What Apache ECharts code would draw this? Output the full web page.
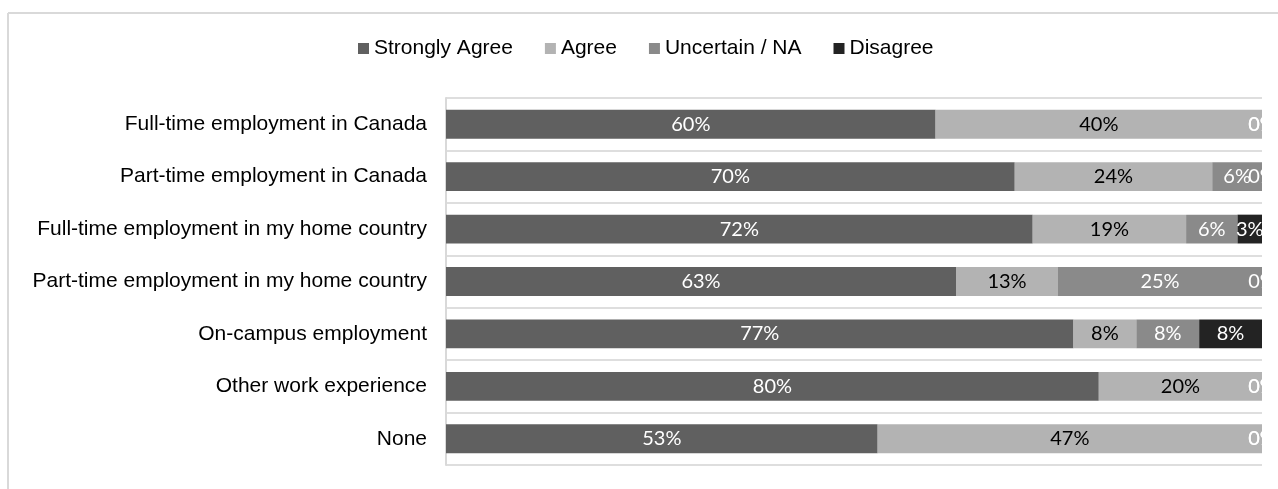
<!DOCTYPE html>
<html>
<head>
<meta charset="utf-8">
<script src="https://cdn.jsdelivr.net/npm/echarts@6/dist/echarts.min.js"></script>
<style>
  html, body { margin: 0; padding: 0; background: #fff; }
  #chart { width: 1278px; height: 489px; }
</style>
</head>
<body>
<div id="chart"></div>
<script>
// Survey categories, top to bottom
const categories = [
  'Full-time employment in Canada',
  'Part-time employment in Canada',
  'Full-time employment in my home country',
  'Part-time employment in my home country',
  'On-campus employment',
  'Other work experience',
  'None'
];

// Share of respondents (%) per answer
const stronglyAgree = [60, 69.7, 71.9, 62.5, 76.9, 80, 52.9];
const agree         = [40, 24.2, 18.8, 12.5, 7.7, 20, 47.1];
const uncertain     = [0, 6.1, 6.3, 25, 7.7, 0, 0];
const disagree      = [0, 0, 3.1, 0, 7.7, 0, 0];

const seriesNames = ['Strongly Agree', 'Agree', 'Uncertain / NA', 'Disagree'];

const chart = echarts.init(document.getElementById('chart'));

function makeSeries(name, data, color, labelColor) {
  return {
    name: name,
    type: 'bar',
    stack: 'total',
    data: data,
    barCategoryGap: '45%',
    itemStyle: { color: color },
    label: {
      show: true,
      position: 'inside',
      color: labelColor,
      fontFamily: 'Lato, "Open Sans", sans-serif',
      fontSize: 20,
      formatter: p => Math.round(p.value) + '%'
    },
    emphasis: { disabled: true }
  };
}

chart.setOption({
  animation: false,
  textStyle: { fontFamily: '"Liberation Sans", Arial, sans-serif' },
  legend: {
    data: seriesNames,
    top: 33,
    left: 353,
    itemWidth: 11,
    itemHeight: 11,
    itemGap: 32,
    icon: 'rect',
    textStyle: { fontSize: 21, color: '#000', fontFamily: '"Liberation Sans", Arial, sans-serif' }
  },
  grid: { left: 446, right: 16, top: 98, bottom: 24 },
  xAxis: {
    type: 'value',
    min: 0,
    max: 100,
    show: false
  },
  yAxis: {
    type: 'category',
    data: categories,
    inverse: true,
    axisTick: { show: false },
    axisLine: { show: true, lineStyle: { color: '#d9d9d9', width: 2 } },
    splitLine: { show: true, lineStyle: { color: '#dedede', width: 2 } },
    axisLabel: {
      color: '#000',
      fontSize: 21,
      margin: 19,
      fontFamily: '"Liberation Sans", Arial, sans-serif'
    }
  },
  series: [
    makeSeries(seriesNames[0], stronglyAgree, '#606060', '#ffffff'),
    makeSeries(seriesNames[1], agree, '#b3b3b3', '#000000'),
    makeSeries(seriesNames[2], uncertain, '#8a8a8a', '#ffffff'),
    makeSeries(seriesNames[3], disagree, '#232323', '#ffffff')
  ],
  graphic: [
    // outer frame edges
    { type: 'line', z: 100, shape: { x1: 8, y1: 13, x2: 1278, y2: 13 }, style: { stroke: '#d9d9d9', lineWidth: 2 } },
    { type: 'line', z: 100, shape: { x1: 8, y1: 13, x2: 8, y2: 489 }, style: { stroke: '#d9d9d9', lineWidth: 2 } },
    // right margin mask
    { type: 'rect', z: 100, shape: { x: 1263, y: 20, width: 20, height: 470 }, style: { fill: '#ffffff' } }
  ]
});
</script>
</body>
</html>
